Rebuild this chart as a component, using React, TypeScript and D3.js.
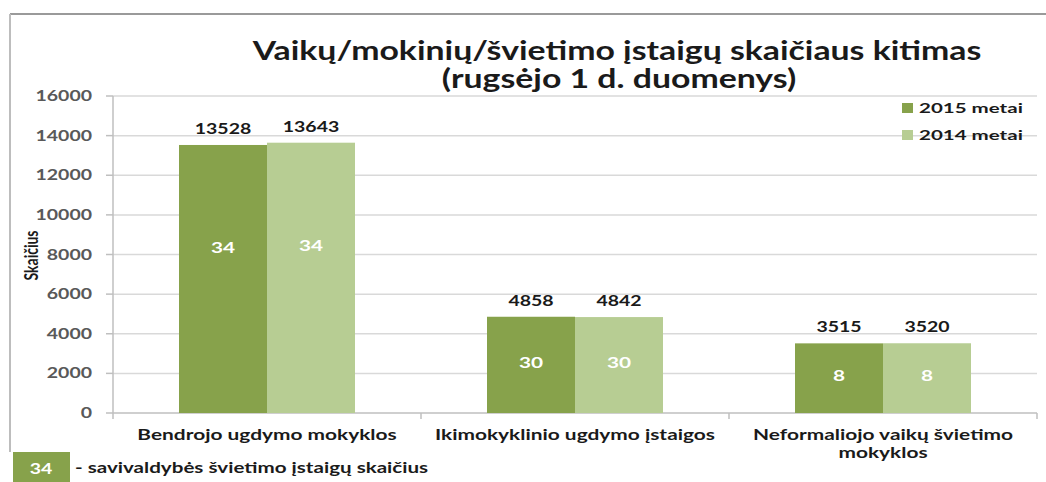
import React from 'react'
import * as d3 from 'd3'

// chart data
const categories = ['Bendrojo ugdymo mokyklos', 'Ikimokyklinio ugdymo įstaigos', 'Neformaliojo vaikų švietimo mokyklos']
const categoryLines = [['Bendrojo ugdymo mokyklos'], ['Ikimokyklinio ugdymo įstaigos'], ['Neformaliojo vaikų švietimo', 'mokyklos']]
const seriesNames = ['2015 metai', '2014 metai']
const values2015 = [13528, 4858, 3515]
const values2014 = [13643, 4842, 3520]
const institutions2015 = [34, 30, 8]
const institutions2014 = [34, 30, 8]
const yTicks = [0, 2000, 4000, 6000, 8000, 10000, 12000, 14000, 16000]

const W = 1046
const H = 482
const DARK = '#87a24b'
const LIGHT = '#b7cd93'
const SX = 1.3 // the source picture is stretched sideways
const FONT = 'Lato, "Open Sans", sans-serif'

type TProps = {
  x: number
  y: number
  size: number
  anchor?: 'start' | 'middle' | 'end'
  fill?: string
  rotate?: number
  sx?: number
  children: React.ReactNode
}

function T({ x, y, size, anchor = 'middle', fill = '#1a1a1a', rotate, sx = SX, children }: TProps) {
  const rot = rotate ? ` rotate(${rotate})` : ''
  return (
    <text
      transform={`translate(${x},${y}) scale(${sx},1)${rot}`}
      fontSize={size}
      fontFamily={FONT}
      fontWeight={700}
      textAnchor={anchor}
      fill={fill}
    >
      {children}
    </text>
  )
}

export default function App() {
  const left = 113
  const right = 1037
  const top = 96
  const bottom = 413

  const y = d3.scaleLinear().domain([0, 16000]).range([bottom, top])
  const x0 = d3.scaleBand<string>().domain(categories).range([left, right]).padding(0)
  const bw = x0.bandwidth() / 3.5 // gap width 150%
  const x1 = d3.scaleBand<string>().domain(seriesNames).range([0, bw * 2])

  const series = [
    { name: seriesNames[0], values: values2015, inst: institutions2015, color: DARK },
    { name: seriesNames[1], values: values2014, inst: institutions2014, color: LIGHT },
  ]

  const tickEdges = [...categories.map((c) => x0(c) as number), right]
  // inner labels sit a little above the middle; higher up on the tall bars
  const innerLevel = (v: number) => (v < 8000 ? v / 2 + 170 : v * 0.62)

  return (
    <svg width={W} height={H} style={{ position: 'absolute', left: 0, top: 0, background: '#fff' }}>
      {/* frame */}
      <line x1={10} x2={W} y1={14} y2={14} stroke="#9a9a9a" strokeWidth={2} />
      <line x1={10} x2={10} y1={14} y2={452} stroke="#bdbdbd" strokeWidth={2} />

      {/* title */}
      <T x={617} y={60} size={26}>Vaikų/mokinių/švietimo įstaigų skaičiaus kitimas</T>
      <T x={619} y={88} size={26}>(rugsėjo 1 d. duomenys)</T>

      {/* gridlines and y axis */}
      {yTicks.map((t) => (
        <g key={t}>
          {t > 0 && <line x1={left} x2={right} y1={y(t)} y2={y(t)} stroke="#d9d9d9" strokeWidth={1.5} />}
          <line x1={left - 7} x2={left} y1={y(t)} y2={y(t)} stroke="#bfbfbf" strokeWidth={1.5} />
          <T x={92} y={y(t) + 5} size={15} anchor="end" fill="#595959">{t}</T>
        </g>
      ))}
      <line x1={left} x2={left} y1={top} y2={bottom} stroke="#bfbfbf" strokeWidth={1.5} />
      <line x1={left} x2={right} y1={bottom} y2={bottom} stroke="#bfbfbf" strokeWidth={1.5} />
      {tickEdges.map((tx, i) => (
        <line key={i} x1={tx} x2={tx} y1={bottom} y2={bottom + 6} stroke="#bfbfbf" strokeWidth={1.5} />
      ))}

      <T x={38} y={y(8000) + 1} size={14} rotate={-90}>Skaičius</T>

      {/* bars */}
      {categories.map((c, i) => (
        <g key={c} transform={`translate(${(x0(c) as number) + bw * 0.75},0)`}>
          {series.map((s) => {
            const bx = x1(s.name) as number
            const v = s.values[i]
            return (
              <g key={s.name}>
                <rect x={bx} y={y(v)} width={x1.bandwidth()} height={bottom - y(v)} fill={s.color} />
                <T x={bx + x1.bandwidth() / 2} y={y(v) - 11} size={15}>{v}</T>
                <T x={bx + x1.bandwidth() / 2} y={y(innerLevel(v)) + 6} size={16} fill="#fff">{s.inst[i]}</T>
              </g>
            )
          })}
        </g>
      ))}

      {/* category labels */}
      {categories.map((c, i) => (
        <g key={c}>
          {categoryLines[i].map((line, j) => (
            <T key={j} x={(x0(c) as number) + x0.bandwidth() / 2} y={440 + j * 18} size={14.5} sx={1.44}>{line}</T>
          ))}
        </g>
      ))}

      {/* legend */}
      {series.map((s, i) => (
        <g key={s.name} transform={`translate(902,${103 + i * 27})`}>
          <rect x={0} y={0} width={11} height={10} fill={s.color} />
          <T x={17} y={10} size={13.5} anchor="start" sx={1.52}>{s.name}</T>
        </g>
      ))}

      {/* footnote */}
      <rect x={13} y={452} width={57} height={H - 452} fill={DARK} />
      <T x={41} y={474} size={15} fill="#fff">{institutions2015[0]}</T>
      <T x={75} y={473} size={14.5} anchor="start" sx={1.42}>- savivaldybės švietimo įstaigų skaičius</T>
    </svg>
  )
}
